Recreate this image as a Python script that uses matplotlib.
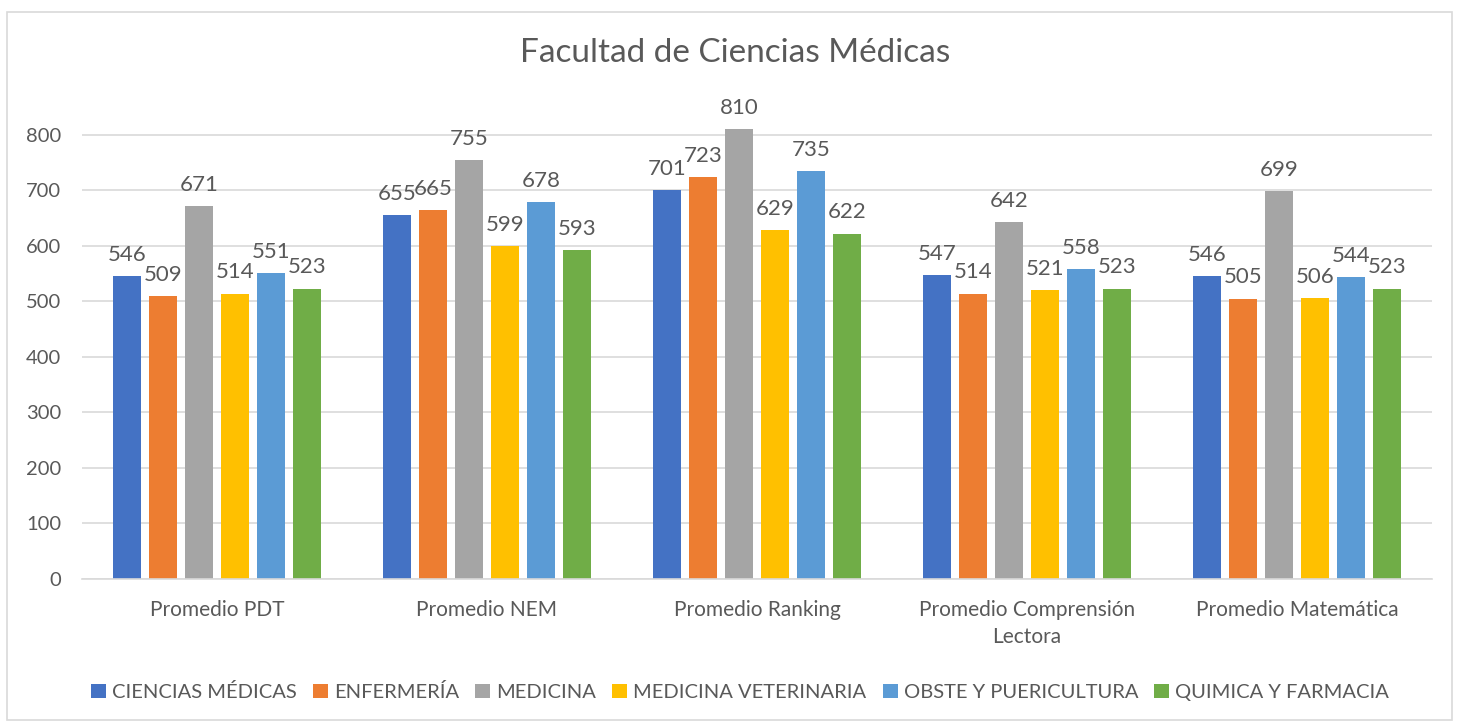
import matplotlib
matplotlib.use("Agg")
import matplotlib.pyplot as plt
import numpy as np
from matplotlib.patches import Rectangle

categories = ["Promedio PDT", "Promedio NEM", "Promedio Ranking",
              "Promedio Comprensión\nLectora", "Promedio Matemática"]
series_names = ["CIENCIAS MÉDICAS", "ENFERMERÍA", "MEDICINA",
                "MEDICINA VETERINARIA", "OBSTE Y PUERICULTURA", "QUIMICA Y FARMACIA"]
ciencias_medicas = [546, 655, 701, 547, 546]
enfermeria = [509, 665, 723, 514, 505]
medicina = [671, 755, 810, 642, 699]
medicina_veterinaria = [514, 599, 629, 521, 506]
obste_puericultura = [551, 678, 735, 558, 544]
quimica_farmacia = [523, 593, 622, 523, 523]
series_values = [ciencias_medicas, enfermeria, medicina,
                 medicina_veterinaria, obste_puericultura, quimica_farmacia]
colors = ["#4472C4", "#ED7D31", "#A5A5A5", "#FFC000", "#5B9BD5", "#70AD47"]
yticks = [0, 100, 200, 300, 400, 500, 600, 700, 800]

plt.rcParams['font.family'] = ['Lato', 'DejaVu Sans']
text_color = "#595959"

fig = plt.figure(figsize=(14.68, 7.27), dpi=100)
fig.patch.set_facecolor("white")
# chart frame
fig.patches.append(Rectangle((7/1468, 1 - 720/727), (1452-7)/1468, (720-12)/727,
                             transform=fig.transFigure, fill=False,
                             edgecolor="#D9D9D9", linewidth=1.2))

ax = fig.add_axes([82/1468, 1 - 579/727, (1432-82)/1468, (579-118)/727])
x = np.arange(len(categories))
slot = 36/270
width = 28/270
for i, (name, vals, c) in enumerate(zip(series_names, series_values, colors)):
    pos = x + (i - 2.5) * slot
    bars = ax.bar(pos, vals, width=width, color=c, label=name, zorder=3)
    for b, v in zip(bars, vals):
        ax.annotate(f"{v}", (b.get_x() + b.get_width()/2, v), xytext=(0, 8),
                    textcoords="offset points", ha="center", va="bottom",
                    fontsize=16, color=text_color)

ax.set_xlim(-0.5, len(categories) - 0.5)
ax.set_ylim(0, 830)
ax.set_yticks(yticks)
ax.set_yticklabels([str(t) for t in yticks], fontsize=14.5, color=text_color)
ax.set_xticks(x)
ax.set_xticklabels(categories, fontsize=15, color=text_color, linespacing=1.45)
ax.tick_params(axis="both", length=0)
ax.tick_params(axis="y", pad=15)
ax.tick_params(axis="x", pad=15)
ax.yaxis.grid(True, color="#D9D9D9", linewidth=1.2, zorder=0)
for s in ["left", "right", "top"]:
    ax.spines[s].set_visible(False)
ax.spines["bottom"].set_color("#D9D9D9")
ax.spines["bottom"].set_linewidth(1.2)
ax.spines["bottom"].set_zorder(4)

fig.text(735/1468, 1 - 53/727, "Facultad de Ciencias Médicas", ha="center", va="center",
         fontsize=24, color=text_color)

fig.legend(loc="center", bbox_to_anchor=(740/1468, 1 - 692/727), ncol=6, frameon=False,
           fontsize=14.5, labelcolor=text_color, handlelength=0.75, handleheight=0.75,
           handletextpad=0.3, columnspacing=0.8)

fig.savefig("out.png", dpi=100, facecolor="white")
